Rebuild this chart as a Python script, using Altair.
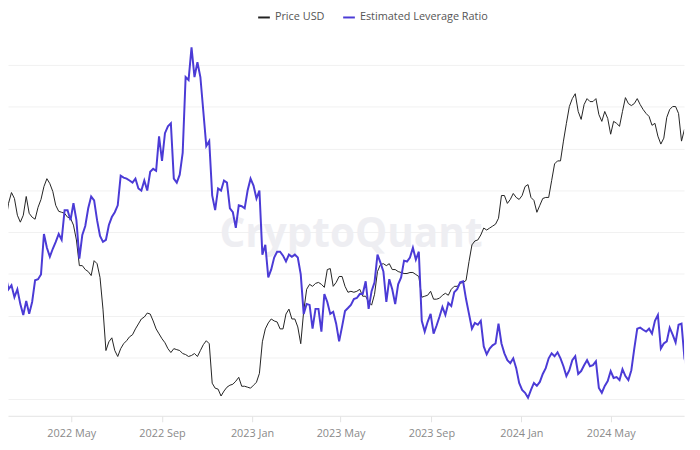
import altair as alt
import pandas as pd

# Samples every 4 days starting 2022-02-01
start_date = "2022-02-01"
step = "4D"

# Price USD (thousands)
price_k = [
    38.18, 41.95, 44.30, 43.00, 39.53, 38.18, 39.53, 43.43, 39.92, 39.14,
    38.75, 41.13, 42.79, 45.65, 47.49, 46.32, 44.53, 41.54, 40.32, 40.12,
    39.92, 39.14, 38.94, 37.62, 34.92, 30.70, 30.70, 30.10, 29.80, 29.21,
    31.47, 31.00, 28.93, 24.68, 20.05, 20.95, 21.37, 20.05, 19.46, 20.24,
    20.75, 21.06, 21.48, 21.70, 22.35, 22.91, 23.49, 23.72, 24.20, 24.08,
    23.26, 22.35, 21.80, 21.27, 20.85, 20.24, 19.85, 20.24, 20.14, 20.05,
    19.75, 19.65, 19.46, 19.56, 19.75, 19.46, 20.05, 20.65, 21.06, 20.75,
    17.02, 16.60, 16.52, 15.96, 16.36, 16.68, 16.85, 16.93, 17.19, 17.53,
    16.76, 16.76, 16.68, 16.60, 16.85, 17.10, 17.88, 20.95, 22.35, 23.03,
    23.49, 23.26, 23.14, 22.35, 22.35, 24.08, 24.68, 23.49, 23.49, 22.57,
    20.75, 24.44, 27.26, 27.95, 27.67, 28.08, 28.22, 27.95, 27.53, 30.10,
    30.25, 27.67, 28.22, 29.07, 29.07, 27.67, 26.86, 26.99, 26.86, 26.99,
    27.26, 26.33, 26.33, 25.56, 25.18, 26.59, 29.80, 30.86, 31.00, 30.70,
    31.00, 30.10, 30.10, 29.80, 29.66, 29.51, 29.51, 29.66, 29.66, 29.36,
    29.07, 26.20, 26.33, 26.46, 26.99, 25.94, 25.94, 26.07, 26.46, 26.72,
    26.46, 27.26, 27.67, 27.67, 28.08, 28.22, 28.50, 31.31, 34.07, 34.75,
    34.92, 35.80, 37.07, 36.70, 37.07, 37.43, 37.80, 38.94, 43.64, 43.64,
    41.95, 42.79, 44.09, 43.22, 42.79, 43.64, 45.65, 46.10, 43.22, 42.58,
    40.12, 41.54, 43.00, 43.22, 43.22, 47.02, 51.15, 51.92, 51.92, 57.34,
    62.69, 68.20, 70.96, 72.73, 66.53, 63.94, 68.88, 70.96, 69.91, 69.91,
    70.96, 65.53, 63.31, 66.53, 64.26, 59.36, 63.31, 62.69, 61.77, 66.53,
    71.32, 69.22, 68.54, 69.22, 70.96, 68.88, 67.19, 65.87, 64.90, 62.07,
    62.69, 58.78, 56.49, 58.20, 64.58, 67.19, 68.20, 68.20, 65.87, 57.34,
    60.85, 59.66,
]

# Estimated Leverage Ratio
leverage = [
    0.2193, 0.2126, 0.2145, 0.2088, 0.2126, 0.2055, 0.2003, 0.2070, 0.2008, 0.2065,
    0.2169, 0.2174, 0.2197, 0.2391, 0.2325, 0.2282, 0.2320, 0.2353, 0.2391, 0.2363,
    0.2505, 0.2505, 0.2457, 0.2538, 0.2457, 0.2273, 0.2386, 0.2429, 0.2514, 0.2571,
    0.2552, 0.2457, 0.2382, 0.2353, 0.2363, 0.2434, 0.2472, 0.2495, 0.2528, 0.2670,
    0.2661, 0.2656, 0.2647, 0.2637, 0.2656, 0.2609, 0.2599, 0.2647, 0.2599, 0.2689,
    0.2703, 0.2694, 0.2859, 0.2741, 0.2874, 0.2907, 0.2921, 0.2656, 0.2637, 0.2675,
    0.2779, 0.3143, 0.3129, 0.3285, 0.3143, 0.3214, 0.3143, 0.2978, 0.2812, 0.2836,
    0.2576, 0.2505, 0.2609, 0.2599, 0.2647, 0.2637, 0.2514, 0.2495, 0.2420, 0.2528,
    0.2524, 0.2514, 0.2599, 0.2656, 0.2623, 0.2561, 0.2599, 0.2292, 0.2339, 0.2183,
    0.2221, 0.2278, 0.2306, 0.2306, 0.2287, 0.2259, 0.2292, 0.2282, 0.2292, 0.2278,
    0.2197, 0.2008, 0.2055, 0.2051, 0.1937, 0.2032, 0.2032, 0.1923, 0.2103, 0.2065,
    0.2008, 0.2018, 0.1961, 0.1876, 0.1947, 0.2022, 0.2036, 0.2051, 0.2079, 0.2084,
    0.2103, 0.2103, 0.2164, 0.2032, 0.2117, 0.2159, 0.2292, 0.2254, 0.2211, 0.2065,
    0.2174, 0.2126, 0.2055, 0.2150, 0.2183, 0.2263, 0.2259, 0.2278, 0.2325, 0.2268,
    0.2306, 0.1975, 0.1923, 0.1970, 0.2008, 0.1913, 0.1951, 0.1994, 0.2041, 0.2003,
    0.2060, 0.2046, 0.2112, 0.2126, 0.2159, 0.2164, 0.2079, 0.2008, 0.1937, 0.1965,
    0.1956, 0.1975, 0.1852, 0.1814, 0.1842, 0.1857, 0.1866, 0.1961, 0.1866, 0.1819,
    0.1786, 0.1772, 0.1795, 0.1748, 0.1677, 0.1644, 0.1630, 0.1606, 0.1644, 0.1677,
    0.1663, 0.1682, 0.1720, 0.1748, 0.1795, 0.1819, 0.1805, 0.1824, 0.1795, 0.1757,
    0.1710, 0.1738, 0.1786, 0.1805, 0.1720, 0.1734, 0.1762, 0.1786, 0.1757, 0.1762,
    0.1781, 0.1653, 0.1630, 0.1663, 0.1686, 0.1734, 0.1701, 0.1705, 0.1691, 0.1743,
    0.1710, 0.1691, 0.1738, 0.1842, 0.1937, 0.1942, 0.1932, 0.1923, 0.1937, 0.1913,
    0.1975, 0.2003, 0.1842, 0.1866, 0.1876, 0.1942, 0.1909, 0.1871, 0.1956, 0.1961,
    0.1795, 0.1738,
]

series_names = ["Price USD", "Estimated Leverage Ratio"]
series_colors = ["#222222", "#4b3bd6"]
grid_values = [0.16, 0.18, 0.20, 0.22, 0.24, 0.26, 0.28, 0.30, 0.32]
tick_dates = [(2022, 5), (2022, 9), (2023, 1), (2023, 5), (2023, 9), (2024, 1), (2024, 5)]

n = len(price_k)
df = pd.DataFrame({
    "date": pd.date_range(start_date, periods=n, freq=step),
    "price": [p * 1000 for p in price_k],
    "lev": leverage[:n],
})

font = "Open Sans"

x_enc = alt.X(
    "date:T",
    title=None,
    scale=alt.Scale(domain=[alt.DateTime(year=2022, month=2, date=4, hours=7),
                            alt.DateTime(year=2024, month=8, date=8, hours=12)]),
    axis=alt.Axis(
        values=[alt.DateTime(year=y, month=m, date=1) for y, m in tick_dates],
        format="%Y %b", grid=False, domainColor="#e3e3e3", tickColor="#e3e3e3",
        tickSize=6, labelColor="#8a8a8a", labelFontSize=11, labelFont=font,
        labelPadding=6, labelFlush=False,
    ),
)

color_scale = alt.Scale(domain=series_names, range=series_colors)
legend = alt.Legend(title=None, orient="none", legendX=252, legendY=-13,
                    direction="horizontal", labelFont=font, labelFontSize=11,
                    labelColor="#555555", symbolType="stroke",
                    symbolStrokeWidth=2, symbolSize=140, columnPadding=14)

watermark = alt.Chart(pd.DataFrame({"t": ["CryptoQuant"]})).mark_text(
    fontSize=41, color="#eeeef2", font=font, fontWeight="bold"
).encode(x=alt.value(347), y=alt.value(214), text="t:N")

price_line = alt.Chart(df).transform_calculate(series="'Price USD'").mark_line(
    strokeWidth=1, clip=True
).encode(
    x=x_enc,
    y=alt.Y("price:Q", scale=alt.Scale(type="log", domain=[14450, 103500]), axis=None),
    color=alt.Color("series:N", scale=color_scale, legend=legend),
)

lev_line = alt.Chart(df).transform_calculate(series="'Estimated Leverage Ratio'").mark_line(
    strokeWidth=2, clip=True
).encode(
    x=x_enc,
    y=alt.Y("lev:Q", scale=alt.Scale(domain=[0.15195, 0.34]),
            axis=alt.Axis(orient="right", values=grid_values, labels=False, ticks=False,
                          domain=False, grid=True, gridColor="#f1f1f1", title=None)),
    color=alt.Color("series:N", scale=color_scale, legend=legend),
)

chart = alt.layer(watermark, price_line, lev_line).resolve_scale(y="independent").properties(
    width=684, height=397,
    autosize=alt.AutoSizeParams(type="none"),
    padding={"left": 0, "top": 13, "right": 8, "bottom": 32},
).configure_view(stroke=None)

chart.save("out.html", embed_options={"renderer": "svg", "actions": False})
